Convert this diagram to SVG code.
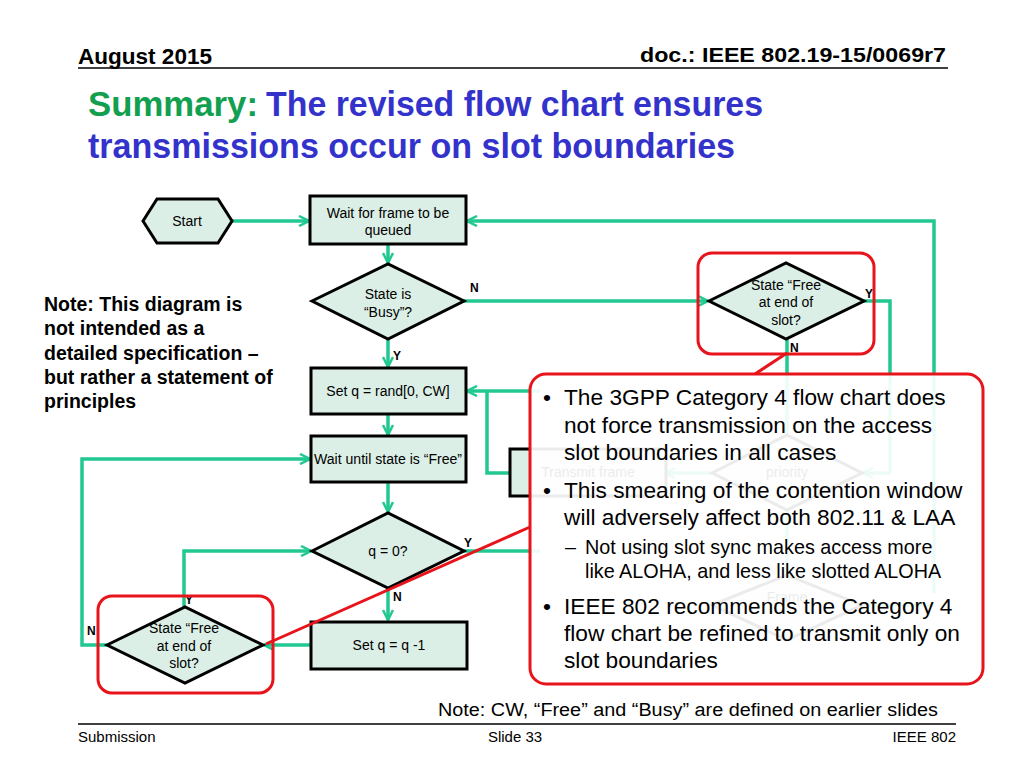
<svg xmlns="http://www.w3.org/2000/svg" width="1024" height="768" viewBox="0 0 1024 768">
<style>
text{font-family:"Liberation Sans",Arial,sans-serif;fill:#000}
.hdr{font-size:21px;font-weight:bold}
.ttl{font-size:35px;font-weight:bold;fill:#3333CC}
.node{fill:#DCEFE6;stroke:#000;stroke-width:3}
.nt{font-size:14px;text-anchor:middle}
.lbl{font-size:12px;font-weight:bold}
.con{fill:none;stroke:#22C892;stroke-width:3.5}
.arr{marker-end:url(#ah)}
.note{font-size:19.5px;font-weight:bold}
.co{font-size:22.7px}
.sub{font-size:19.8px}
.red{fill:none;stroke:#E8141B;stroke-width:3}
.foot{font-size:15px}
</style>
<defs>
<marker id="ah" viewBox="0 0 12 12" refX="11" refY="6" markerWidth="12" markerHeight="12" markerUnits="userSpaceOnUse" orient="auto">
<path d="M1,1 L11,6 L1,11" fill="none" stroke="#22C892" stroke-width="2.5"/>
</marker>
</defs>
<rect width="1024" height="768" fill="#fff"/>

<g id="header">
<text class="hdr" x="78" y="64" style="font-size:22px" textLength="134" lengthAdjust="spacingAndGlyphs">August 2015</text>
<text class="hdr" x="946" y="62" text-anchor="end" textLength="306" lengthAdjust="spacingAndGlyphs">doc.: IEEE 802.19-15/0069r7</text>
<line x1="78" y1="68" x2="948" y2="68" stroke="#000" stroke-width="1.5"/>
<text class="ttl" x="88" y="116" style="fill:#12A050" textLength="170" lengthAdjust="spacingAndGlyphs">Summary:</text>
<text class="ttl" x="266" y="116" textLength="497" lengthAdjust="spacingAndGlyphs">The revised flow chart ensures</text>
<text class="ttl" x="88" y="158" textLength="647" lengthAdjust="spacingAndGlyphs">transmissions occur on slot boundaries</text>
</g>

<g id="side-note">
<text class="note" x="44" y="311">Note: This diagram is</text>
<text class="note" x="44" y="335">not intended as a</text>
<text class="note" x="44" y="360">detailed specification –</text>
<text class="note" x="44" y="384">but rather a statement of</text>
<text class="note" x="44" y="408">principles</text>
</g>

<g id="connectors">
<path class="con arr" d="M232,221 H309"/>
<path class="con arr" d="M934,593 V221 H467"/>
<path class="con arr" d="M388,244 V263"/>
<path class="con arr" d="M464,301 H708"/>
<path class="con arr" d="M388,339 V367"/>
<path class="con arr" d="M388,414 V435"/>
<path class="con arr" d="M388,482 V512"/>
<path class="con arr" d="M388,588 V620"/>
<path class="con arr" d="M311,645 H264"/>
<path class="con arr" d="M184,607 V551 H311"/>
<path class="con arr" d="M107,645 H82 V459 H310"/>
<path class="con" d="M464,551 H540"/>
<path class="con arr" d="M540,391 H467"/>
<path class="con" d="M510,473 H487 V391"/>
<path class="con" d="M864,301 H890 V473"/>
<path class="con arr" d="M890,473 H863"/>
<path class="con" d="M787,339 V435"/>
<path class="con arr" d="M712,473 H665"/>
<path class="con" d="M787,510 V575"/>
<path class="con" d="M862,605 H934"/>
</g>

<g id="start">
<polygon class="node" points="143,221 157,199 218,199 232,221 218,243 157,243"/>
<text class="nt" x="187" y="226">Start</text>
</g>
<g id="wait-frame">
<rect class="node" x="310" y="196" width="156" height="48"/>
<text class="nt" x="388" y="218">Wait for frame to be</text>
<text class="nt" x="388" y="235">queued</text>
</g>
<g id="state-busy">
<polygon class="node" points="312,301 388,264 464,301 388,339"/>
<text class="nt" x="388" y="299">State is</text>
<text class="nt" x="388" y="317">“Busy”?</text>
<text class="lbl" x="470" y="292">N</text>
<text class="lbl" x="393" y="360">Y</text>
</g>
<g id="set-q">
<rect class="node" x="311" y="368" width="155" height="46"/>
<text class="nt" x="388" y="396">Set q = rand[0, CW]</text>
</g>
<g id="wait-free">
<rect class="node" x="311" y="436" width="155" height="46"/>
<text class="nt" x="388" y="464" textLength="148" lengthAdjust="spacingAndGlyphs">Wait until state is “Free”</text>
</g>
<g id="q-zero">
<polygon class="node" points="312,551 388,513 464,551 388,588"/>
<text class="nt" x="388" y="556">q = 0?</text>
<text class="lbl" x="464" y="547">Y</text>
<text class="lbl" x="393" y="601">N</text>
</g>
<g id="dec-q">
<rect class="node" x="311" y="622" width="156" height="47"/>
<text class="nt" x="389" y="650">Set q = q -1</text>
</g>
<g id="free-slot-left">
<polygon class="node" points="107,645 185,607 263,645 185,683"/>
<text class="nt" x="184" y="633">State “Free</text>
<text class="nt" x="184" y="651">at end of</text>
<text class="nt" x="184" y="668">slot?</text>
<text class="lbl" x="185" y="604">Y</text>
<text class="lbl" x="87" y="635">N</text>
</g>
<g id="free-slot-right">
<polygon class="node" points="709,301 786,263 864,301 786,339"/>
<text class="nt" x="786" y="290">State “Free</text>
<text class="nt" x="786" y="307">at end of</text>
<text class="nt" x="786" y="325">slot?</text>
<text class="lbl" x="865" y="298">Y</text>
<text class="lbl" x="790" y="352">N</text>
</g>
<g id="transmit">
<rect class="node" x="510" y="449" width="156" height="47"/>
<text class="nt" x="588" y="477">Transmit frame</text>
</g>
<g id="priority">
<polygon class="node" points="712,473 787,435 862,473 787,510"/>
<text class="nt" x="787" y="477">priority</text>
</g>
<g id="frame-dec">
<polygon class="node" points="712,605 787,575 862,605 787,640"/>
<text class="nt" x="787" y="602">Frame</text>
</g>

<g id="callout">
<rect x="530" y="374" width="453" height="310" rx="16" fill="#fff" fill-opacity="0.92" stroke="#E8141B" stroke-width="3"/>
<text class="co" x="543" y="405">•</text>
<text class="co" x="564" y="405">The 3GPP Category 4 flow chart does</text>
<text class="co" x="564" y="433">not force transmission on the access</text>
<text class="co" x="564" y="460">slot boundaries in all cases</text>
<text class="co" x="543" y="498">•</text>
<text class="co" x="564" y="498">This smearing of the contention window</text>
<text class="co" x="564" y="525">will adversely affect both 802.11 &amp; LAA</text>
<text class="sub" x="565" y="554">–</text>
<text class="sub" x="585" y="554">Not using slot sync makes access more</text>
<text class="sub" x="585" y="578">like ALOHA, and less like slotted ALOHA</text>
<text class="co" x="543" y="614">•</text>
<text class="co" x="564" y="614">IEEE 802 recommends the Category 4</text>
<text class="co" x="564" y="641">flow chart be refined to transmit only on</text>
<text class="co" x="564" y="668">slot boundaries</text>
</g>

<g id="highlights">
<rect class="red" x="698" y="253" width="176" height="101" rx="14"/>
<rect class="red" x="98" y="596" width="175" height="97" rx="14"/>
<line class="red" x1="787" y1="353" x2="755" y2="374"/>
<line class="red" x1="530" y1="527" x2="266" y2="644"/>
</g>

<g id="footer">
<text x="438" y="716" style="font-size:18px" textLength="500" lengthAdjust="spacingAndGlyphs">Note: CW, “Free” and “Busy” are defined on earlier slides</text>
<line x1="78" y1="724" x2="956" y2="724" stroke="#000" stroke-width="1.5"/>
<text class="foot" x="78" y="742">Submission</text>
<text class="foot" x="515" y="742" text-anchor="middle">Slide 33</text>
<text class="foot" x="956" y="742" text-anchor="end">IEEE 802</text>
</g>
</svg>
